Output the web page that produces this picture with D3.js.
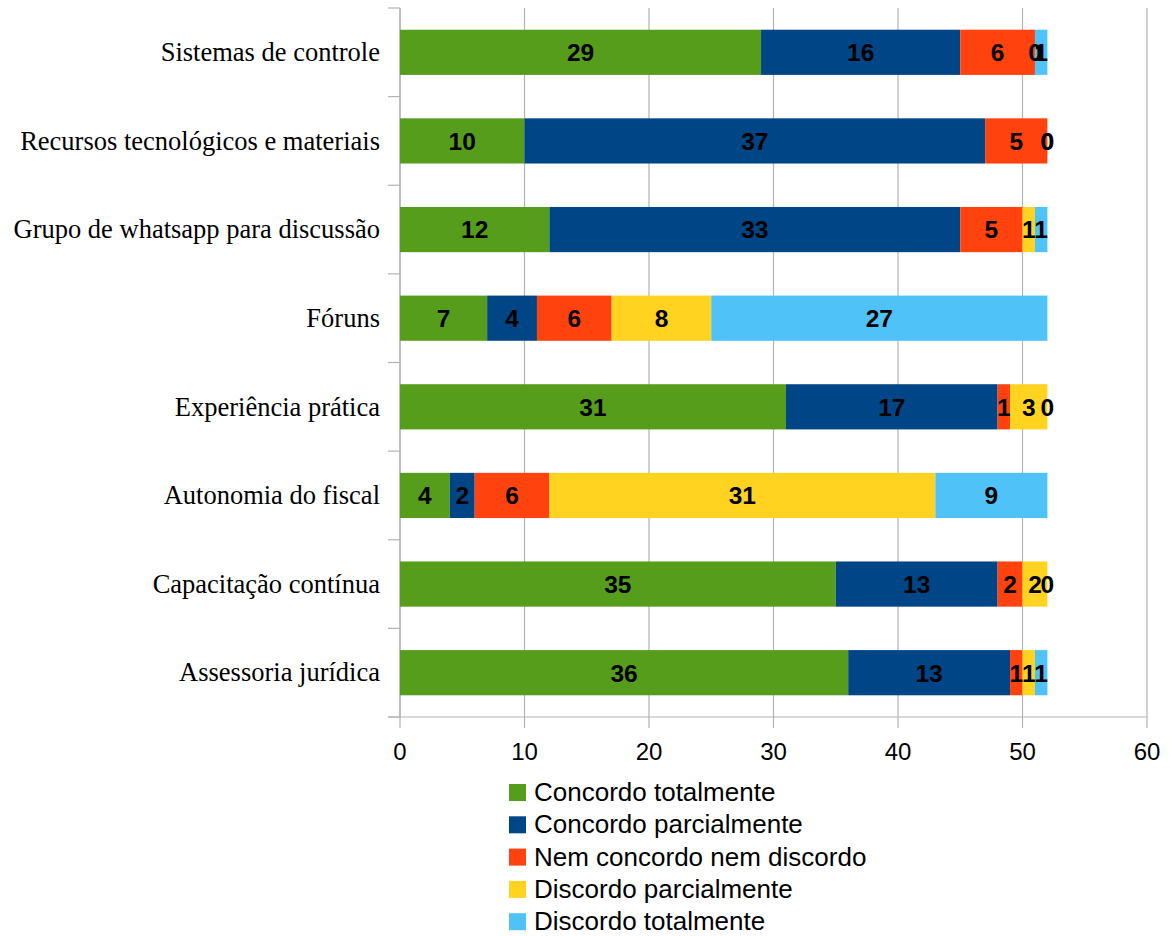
<!DOCTYPE html>
<html>
<head>
<meta charset="utf-8">
<script src="https://cdn.jsdelivr.net/npm/d3@7"></script>
<style>
  html, body { margin: 0; padding: 0; background: #fff; }
  svg { display: block; }
</style>
</head>
<body>
<svg id="chart" width="1170" height="936"></svg>
<script>
// Survey categories (top to bottom)
const categories = [
  "Sistemas de controle",
  "Recursos tecnológicos e materiais",
  "Grupo de whatsapp para discussão",
  "Fóruns",
  "Experiência prática",
  "Autonomia do fiscal",
  "Capacitação contínua",
  "Assessoria jurídica"
];

// Response levels
const seriesNames = [
  "Concordo totalmente",
  "Concordo parcialmente",
  "Nem concordo nem discordo",
  "Discordo parcialmente",
  "Discordo totalmente"
];

// Counts per level, in category order
const concordoTotalmente   = [29, 10, 12, 7, 31, 4, 35, 36];
const concordoParcialmente = [16, 37, 33, 4, 17, 2, 13, 13];
const nemConcordoNem       = [6, 5, 5, 6, 1, 6, 2, 1];
const discordoParcialmente = [0, 0, 1, 8, 3, 31, 2, 1];
const discordoTotalmente   = [1, 0, 1, 27, 0, 9, 0, 1];

const xTicks = [0, 10, 20, 30, 40, 50, 60];

const colors = ["#579d1c", "#004586", "#ff420e", "#ffd320", "#4fc3f7"];

(function () {
  const seriesValues = [concordoTotalmente, concordoParcialmente, nemConcordoNem, discordoParcialmente, discordoTotalmente];

  const rows = categories.map((c, i) => {
    const r = { category: c };
    seriesNames.forEach((s, j) => { r[s] = seriesValues[j][i]; });
    return r;
  });

  const stacked = d3.stack().keys(seriesNames)(rows);

  const svg = d3.select("#chart");
  const plotLeft = 400, plotRight = 1147, plotTop = 8, plotBottom = 717;

  const x = d3.scaleLinear().domain([0, 60]).range([plotLeft, plotRight]);
  const y = d3.scaleBand().domain(categories).range([plotTop, plotBottom]).paddingInner(0.49).paddingOuter(0.245);
  const band = d3.scaleBand().domain(categories).range([plotTop, plotBottom]);

  const gridColor = "#b3b3b3";

  // vertical grid lines with ticks below the axis
  svg.append("g").selectAll("line").data(xTicks).join("line")
    .attr("x1", d => x(d)).attr("x2", d => x(d))
    .attr("y1", plotTop).attr("y2", plotBottom + 11)
    .attr("stroke", gridColor).attr("stroke-width", 1.2);

  // left axis line and category tick marks
  svg.append("line").attr("x1", plotLeft).attr("x2", plotLeft).attr("y1", plotTop).attr("y2", plotBottom)
    .attr("stroke", gridColor).attr("stroke-width", 1.2);
  const catBounds = categories.map(c => band(c)).concat([plotBottom]);
  svg.append("g").selectAll("line").data(catBounds).join("line")
    .attr("x1", plotLeft - 12).attr("x2", plotLeft)
    .attr("y1", d => d).attr("y2", d => d)
    .attr("stroke", gridColor).attr("stroke-width", 1.2);

  // bottom axis line
  svg.append("line").attr("x1", plotLeft - 12).attr("x2", plotRight).attr("y1", plotBottom).attr("y2", plotBottom)
    .attr("stroke", gridColor).attr("stroke-width", 1.2);

  // bars
  const layers = svg.append("g").selectAll("g").data(stacked).join("g")
    .attr("fill", (d, i) => colors[i]);
  layers.selectAll("rect").data(d => d).join("rect")
    .attr("x", d => x(d[0]))
    .attr("width", d => x(d[1]) - x(d[0]))
    .attr("y", d => y(d.data.category))
    .attr("height", y.bandwidth());

  // value labels, centred on each segment
  const labelG = svg.append("g");
  stacked.forEach(layer => {
    labelG.append("g").selectAll("text").data(layer).join("text")
      .attr("x", d => x((d[0] + d[1]) / 2))
      .attr("y", d => y(d.data.category) + y.bandwidth() / 2)
      .attr("dy", "0.36em")
      .attr("text-anchor", "middle")
      .attr("font-family", "'Liberation Sans', Arial, sans-serif")
      .attr("font-weight", "bold")
      .attr("font-size", 24.5)
      .attr("fill", "#000")
      .text(d => d[1] - d[0]);
  });

  // category labels
  svg.append("g").selectAll("text").data(categories).join("text")
    .attr("x", plotLeft - 20)
    .attr("y", d => y(d) + y.bandwidth() / 2)
    .attr("dy", "0.33em")
    .attr("text-anchor", "end")
    .attr("font-family", "'Liberation Serif', 'Times New Roman', serif")
    .attr("font-size", 26.5)
    .attr("fill", "#000")
    .text(d => d);

  // x tick labels
  svg.append("g").selectAll("text").data(xTicks).join("text")
    .attr("x", d => x(d))
    .attr("y", 751)
    .attr("dy", "0.36em")
    .attr("text-anchor", "middle")
    .attr("font-family", "'Liberation Sans', Arial, sans-serif")
    .attr("font-size", 24)
    .attr("fill", "#000")
    .text(d => d);

  // legend
  const legend = svg.append("g").selectAll("g").data(seriesNames).join("g")
    .attr("transform", (d, i) => `translate(509, ${792 + i * 32.3})`);
  legend.append("rect")
    .attr("x", 0).attr("y", -8).attr("width", 17).attr("height", 17)
    .attr("fill", (d, i) => colors[i]);
  legend.append("text")
    .attr("x", 25).attr("y", 0).attr("dy", "0.35em")
    .attr("font-family", "'Liberation Sans', Arial, sans-serif")
    .attr("font-size", 26)
    .attr("fill", "#000")
    .text(d => d);
})();
</script>
</body>
</html>
